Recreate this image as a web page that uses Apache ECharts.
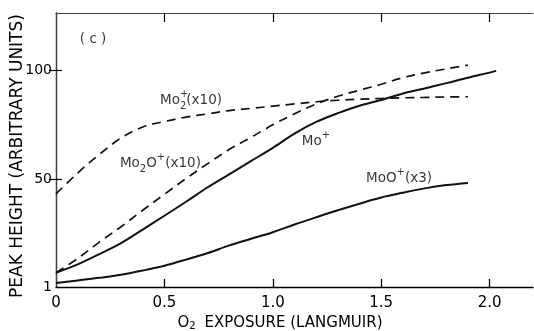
<!DOCTYPE html>
<html>
<head>
<meta charset="utf-8">
<script src="https://cdn.jsdelivr.net/npm/echarts@6/dist/echarts.min.js"></script>
<style>
  html, body { margin: 0; padding: 0; background: #fff; }
  #chart { width: 534px; height: 331px; }
</style>
</head>
<body>
<div id="chart"></div>
<script>
// O2 exposure (Langmuir) at which each curve is sampled
const exposure = [0, 0.1, 0.2, 0.3, 0.4, 0.5, 0.6, 0.7, 0.8, 0.9, 1.0,
                  1.1, 1.2, 1.3, 1.4, 1.5, 1.6, 1.7, 1.8, 1.9];
const exposureMo = [0, 0.1, 0.2, 0.3, 0.4, 0.5, 0.6, 0.7, 0.8, 0.9, 1.0,
                    1.1, 1.2, 1.3, 1.4, 1.5, 1.6, 1.7, 1.8, 1.9, 2.0, 2.03];

// Peak heights (arbitrary units)
const mo2Plus  = [43.5, 53, 61.5, 69, 74, 76.5, 78.5, 80, 81.5, 82.5, 83.5,
                  84.5, 85.5, 86.2, 86.7, 87, 87.3, 87.5, 87.7, 87.8];
const mo2OPlus = [7.5, 14, 21.5, 28.5, 36, 43.3, 50.5, 57.3, 63.8, 69.3, 75,
                  80, 84.5, 88, 90.8, 93.5, 96.5, 98.7, 100.5, 102.2];
const moPlus   = [7.5, 11.3, 16, 21, 27.2, 33.5, 39.9, 46.5, 52.5, 58.5, 64.5,
                  71, 76.3, 80.3, 83.7, 86.3, 89.3, 91.6, 94, 96.5, 98.8, 99.6];
const moOPlus  = [2.8, 4, 5.2, 6.6, 8.5, 10.7, 13.5, 16.5, 20, 23, 26,
                  29.5, 32.8, 36, 39, 41.8, 44, 46, 47.5, 48.5];

// Axis ticks
const xTickValues = [0, 0.5, 1.0, 1.5, 2.0];
const yTickValues = [1, 50, 100];

const FONT = 'DejaVu Sans';
const INK = '#000';

const pairs = (xs, ys) => ys.map((y, i) => [xs[i], y]);

// Curve annotations, anchored in data coordinates (left edge of the text)
const notes = [
  { at: [0.11, 114.1], text: '( c )' },
  { at: [0.48, 85.9], text: 'Mo{supz|+}{sub|2}(x10)' },
  { at: [0.295, 57.5], text: 'Mo{sub|2}O{sup|+}(x10)' },
  { at: [1.134, 67.3], text: 'Mo{sup|+}' },
  { at: [1.43, 50.7], text: 'MoO{sup|+}(x3)' }
];

const curve = (name, data, dashed) => ({
  name, type: 'line', data,
  smooth: 0.35, showSymbol: false, symbol: 'none',
  lineStyle: { color: '#111', width: dashed ? 1.7 : 2, type: dashed ? [9, 6] : 'solid' },
  z: 3
});

const chart = echarts.init(document.getElementById('chart'));
chart.setOption({
  animation: false,
  backgroundColor: '#fff',
  grid: { left: 56, right: 1, top: 13, bottom: 44, containLabel: false, outerBoundsMode: 'none' },
  xAxis: [{
    type: 'value', position: 'bottom', min: 0, max: 2.2,
    name: 'O{sub|2} EXPOSURE (LANGMUIR)',
    nameLocation: 'middle', nameGap: 29, nameMoveOverlap: false,
    nameTextStyle: {
      fontFamily: FONT, fontSize: 15, color: INK, padding: [0, 29, 0, 0],
      rich: { sub: { fontSize: 10, verticalAlign: 'bottom', lineHeight: 10, padding: [0, 4, 0, 0] } }
    },
    axisLine: { show: true, lineStyle: { color: INK, width: 1.4 } },
    axisTick: { show: true, inside: true, length: 8, customValues: [0.5, 1.0, 1.5, 2.0],
                lineStyle: { color: INK, width: 1.3 } },
    axisLabel: { show: true, customValues: xTickValues, margin: 9,
                 fontFamily: FONT, fontSize: 15, color: INK,
                 formatter: v => v === 0 ? '0' : v.toFixed(1) },
    splitLine: { show: false }
  }, {
    type: 'value', position: 'top', min: 0, max: 2.2,
    axisLine: { show: true, lineStyle: { color: '#444', width: 1 } },
    axisTick: { show: true, inside: true, length: 9, customValues: [0.5, 1.0, 1.5, 2.0],
                lineStyle: { color: INK, width: 1.2 } },
    axisLabel: { show: false },
    splitLine: { show: false }
  }],
  yAxis: [{
    type: 'value', position: 'left', min: 1, max: 126,
    name: 'PEAK HEIGHT (ARBITRARY UNITS)',
    nameLocation: 'middle', nameRotate: 90, nameGap: 30, nameMoveOverlap: false,
    nameTextStyle: { fontFamily: FONT, fontSize: 17, color: INK, padding: [0, 12, 0, 0] },
    axisLine: { show: true, lineStyle: { color: INK, width: 1.4 } },
    axisTick: { show: true, inside: true, length: 6, customValues: [50, 100],
                lineStyle: { color: INK, width: 1.2 } },
    axisLabel: { show: true, customValues: yTickValues, margin: 4,
                 fontFamily: FONT, fontSize: 14, color: INK },
    splitLine: { show: false }
  }, {
    type: 'value', position: 'right', min: 1, max: 126,
    axisLine: { show: true, lineStyle: { color: '#444', width: 1 } },
    axisTick: { show: true, inside: true, length: 7, customValues: [50, 100],
                lineStyle: { color: INK, width: 1.2 } },
    axisLabel: { show: false },
    splitLine: { show: false }
  }],
  series: [
    curve('Mo2+ (x10)', pairs(exposure, mo2Plus), true),
    curve('Mo2O+ (x10)', pairs(exposure, mo2OPlus), true),
    curve('Mo+', pairs(exposureMo, moPlus), false),
    curve('MoO+ (x3)', pairs(exposure, moOPlus), false),
    {
      name: 'notes', type: 'scatter', symbolSize: 0, silent: true, z: 5,
      data: notes.map(n => ({ value: n.at, label: { formatter: n.text } })),
      label: {
        show: true, position: 'inside', align: 'left', verticalAlign: 'middle',
        fontFamily: FONT, fontSize: 13.5, color: INK, lineHeight: 22,
        rich: {
          sup: { fontSize: 10, lineHeight: 10, verticalAlign: 'top', color: INK, fontFamily: FONT },
          supz: { fontSize: 10, lineHeight: 10, verticalAlign: 'top', color: INK, fontFamily: FONT, width: 0 },
          sub: { fontSize: 10, lineHeight: 10, verticalAlign: 'bottom', color: INK, fontFamily: FONT }
        }
      }
    }
  ]
});
</script>
</body>
</html>
